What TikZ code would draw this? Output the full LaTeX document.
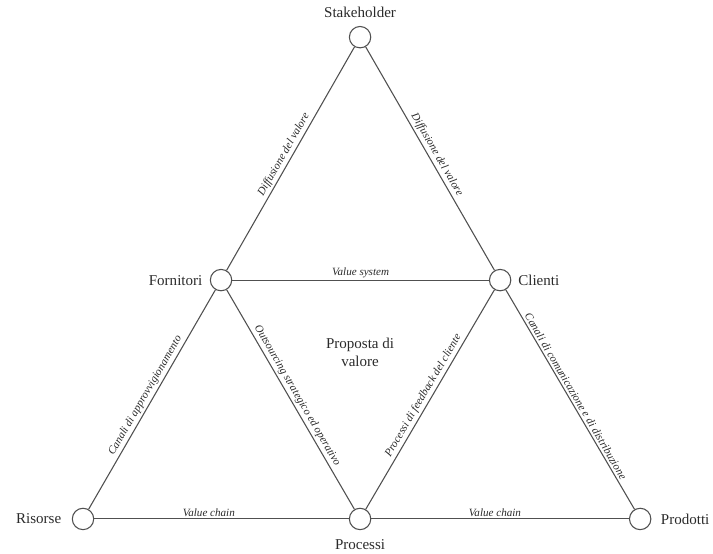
\documentclass[tikz,border=0pt]{standalone}
\usepackage{fontspec}
\setmainfont{Liberation Serif}
\usepackage{xcolor}
\usepackage{tikz}
\usetikzlibrary{positioning}
\definecolor{vclinea}{HTML}{505050}
\definecolor{vctesto}{HTML}{2A2A2A}

\begin{document}
\begin{tikzpicture}[every node/.style={font=\fontsize{8.4}{10}\selectfont, text=vctesto},
  nodo/.style={circle, draw=vclinea, fill=white, line width=0.6pt, minimum size=4.2mm, inner sep=0pt},
  flusso/.style={vclinea, line width=0.6pt},
  etichetta/.style={font=\fontsize{6.2}{7.4}\selectfont\itshape, midway, above, sloped, inner sep=1.2pt}]
  % Cornice
  \useasboundingbox (0,0) rectangle (14,10.86);
  % --- Nodi ---
  \node[nodo] (stake) at (7.07,10.13) {};
  \node[nodo] (forn) at (4.34,5.36) {};
  \node[nodo] (cli) at (9.82,5.36) {};
  \node[nodo] (ris) at (1.63,0.67) {};
  \node[nodo] (proc) at (7.07,0.67) {};
  \node[nodo] (prod) at (12.57,0.67) {};
  % Nomi dei nodi
  \node[above=1.5mm of stake, inner sep=0pt] (tstake) {Stakeholder};
  \node[left=1.4mm of forn, inner sep=0pt] (tforn) {Fornitori};
  \node[right=1.3mm of cli, inner sep=0pt] (tcli) {Clienti};
  \node[left=2mm of ris, inner sep=0pt] (tris) {Risorse};
  \node[below=1.7mm of proc, inner sep=0pt] (tproc) {Processi};
  \node[right=1.8mm of prod, inner sep=0pt] (tprod) {Prodotti};
  % Centro
  \node[align=center] (proposta) at (7.07,3.95) {Proposta di\\valore};
  % --- Triangolo superiore ---
  \draw[flusso] (stake) -- node[etichetta] {Diffusione del valore} (forn);
  \draw[flusso] (stake) -- node[etichetta] {Diffusione del valore} (cli);
  \draw[flusso] (forn) -- node[etichetta] {Value system} (cli);
  % --- Lati interni ---
  \draw[flusso] (forn) -- node[etichetta] {Canali di approvvigionamento} (ris);
  \draw[flusso] (forn) -- node[etichetta] {Outsourcing strategico ed operativo} (proc);
  \draw[flusso] (proc) -- node[etichetta] {Processi di feedback del cliente} (cli);
  \draw[flusso] (cli) -- node[etichetta] {Canali di comunicazione e di distribuzione} (prod);
  % --- Base ---
  \draw[flusso] (ris) -- node[etichetta, pos=0.45] {Value chain} (proc);
  \draw[flusso] (proc) -- node[etichetta, pos=0.48] {Value chain} (prod);
\end{tikzpicture}
\end{document}
